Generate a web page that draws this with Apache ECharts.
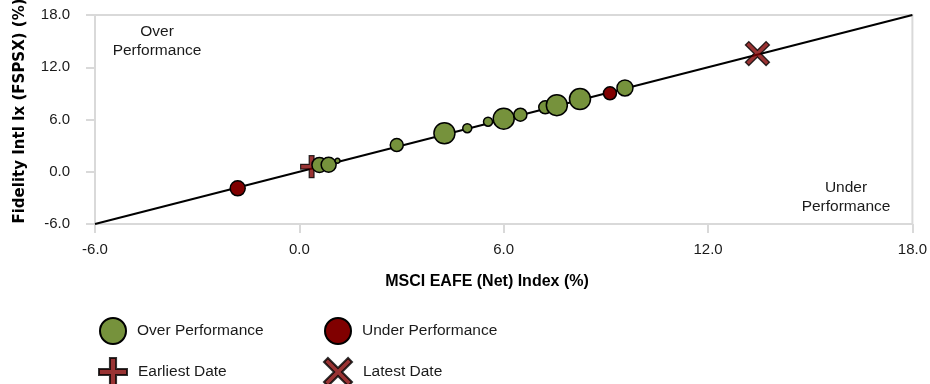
<!DOCTYPE html>
<html>
<head>
<meta charset="utf-8">
<script src="https://cdn.jsdelivr.net/npm/echarts@6/dist/echarts.min.js"></script>
<style>html,body{margin:0;padding:0;background:#fff;}#c{width:930px;height:384px;}</style>
</head>
<body>
<div id="c"></div>
<script>
// Data (x = MSCI EAFE (Net) Index %, y = Fidelity Intl Ix (FSPSX) %)
var axisTicks = [-6, 0, 6, 12, 18];
var overX = [0.59, 0.86, 1.12, 2.86, 4.26, 4.93, 5.54, 6.00, 6.49, 7.22, 7.56, 8.24, 9.56];
var overY = [0.78, 0.80, 1.27, 3.07, 4.42, 5.00, 5.75, 6.10, 6.55, 7.40, 7.65, 8.35, 9.62];
var overSize = [15, 15, 5, 13, 21, 9, 9, 21, 13, 13, 21, 21, 16];
var underX = [-1.81, 9.12];
var underY = [-1.90, 9.01];
var underSize = [15, 13];
var earliest = [0.36, 0.58];
var latest = [13.45, 13.57];
var lineX = [-6, 18];
var lineY = [-6, 18];

var GREEN = '#76923C', RED = '#800000';
var plusPath = 'path://M3.9,0 L6.1,0 L6.1,3.9 L10,3.9 L10,6.1 L6.1,6.1 L6.1,10 L3.9,10 L3.9,6.1 L0,6.1 L0,3.9 L3.9,3.9 Z';
var xPath = 'path://M0,1.4 L1.4,0 L5,3.6 L8.6,0 L10,1.4 L6.4,5 L10,8.6 L8.6,10 L5,6.4 L1.4,10 L0,8.6 L3.6,5 Z';

function zip(xs, ys, ss) {
  return xs.map(function (v, i) { return ss ? [v, ys[i], ss[i]] : [v, ys[i]]; });
}

var chart = echarts.init(document.getElementById('c'), null, {renderer: 'canvas'});
var FONT = 'Liberation Sans, Arial, sans-serif';
var axisCommon = {
  type: 'value', min: -6, max: 18, interval: 6,
  axisLine: {show: false, onZero: false},
  axisTick: {show: true, length: 9, lineStyle: {color: '#d9d9d9', width: 2}},
  splitLine: {show: false},
  axisLabel: {fontSize: 15, color: '#1a1a1a', fontFamily: FONT, formatter: function (v) { return v.toFixed(1); }}
};
var legendCommon = {
  itemWidth: 26, itemHeight: 26, itemGap: 0, padding: 0,
  textStyle: {fontSize: 15.5, color: '#1a1a1a', fontFamily: FONT, padding: [0, 0, 0, 6]},
  selectedMode: false
};
chart.setOption({
  animation: false,
  backgroundColor: '#fff',
  grid: {left: 95, right: 15, top: 15, bottom: 160, show: true, borderColor: '#d9d9d9', borderWidth: 2},
  xAxis: Object.assign({}, axisCommon, {axisLabel: Object.assign({}, axisCommon.axisLabel, {margin: 18})}),
  yAxis: Object.assign({}, axisCommon, {axisLabel: Object.assign({}, axisCommon.axisLabel, {margin: 25})}),
  legend: [
    Object.assign({}, legendCommon, {left: 99, top: 317, data: [{name: 'Over Performance', icon: 'circle'}]}),
    Object.assign({}, legendCommon, {left: 324, top: 317, data: [{name: 'Under Performance', icon: 'circle'}]}),
    Object.assign({}, legendCommon, {left: 98, top: 357, itemWidth: 28, itemHeight: 28, data: [{name: 'Earliest Date', icon: plusPath}]}),
    Object.assign({}, legendCommon, {left: 323, top: 357, itemWidth: 28, itemHeight: 28, data: [{name: 'Latest Date', icon: xPath}]})
  ],
  graphic: [
    {type: 'text', x: 487, y: 282, style: {text: 'MSCI EAFE (Net) Index (%)', fontSize: 16, fontWeight: 'bold', fontFamily: FONT, fill: '#000', align: 'center', verticalAlign: 'middle'}},
    {type: 'text', x: 20, y: 111, rotation: Math.PI / 2, style: {text: 'Fidelity Intl Ix (FSPSX) (%)', fontSize: 15, fontWeight: 'bold', fontFamily: 'DejaVu Sans, sans-serif', fill: '#000', align: 'center', verticalAlign: 'middle'}},
    {type: 'text', x: 157, y: 41, style: {text: 'Over\nPerformance', fontSize: 15.5, lineHeight: 19, fontFamily: FONT, fill: '#1a1a1a', align: 'center', verticalAlign: 'middle'}},
    {type: 'text', x: 846, y: 197, style: {text: 'Under\nPerformance', fontSize: 15.5, lineHeight: 19, fontFamily: FONT, fill: '#1a1a1a', align: 'center', verticalAlign: 'middle'}}
  ],
  series: [
    {type: 'line', data: zip(lineX, lineY), symbol: 'none', silent: true, lineStyle: {color: '#000', width: 2}, z: 1},
    {name: 'Earliest Date', type: 'scatter', data: [earliest], symbol: plusPath, symbolSize: 22,
      itemStyle: {color: RED, borderColor: '#000', borderWidth: 1.2}, z: 2},
    {name: 'Over Performance', type: 'scatter', data: zip(overX, overY, overSize), symbol: 'circle',
      symbolSize: function (d) { return d[2]; },
      itemStyle: {color: GREEN, borderColor: '#000', borderWidth: 1.5, opacity: 1}, z: 3},
    {name: 'Under Performance', type: 'scatter', data: zip(underX, underY, underSize), symbol: 'circle',
      symbolSize: function (d) { return d[2]; },
      itemStyle: {color: RED, borderColor: '#000', borderWidth: 1.5, opacity: 1}, z: 3},
    {name: 'Latest Date', type: 'scatter', data: [latest], symbol: xPath, symbolSize: 24,
      itemStyle: {color: RED, borderColor: '#000', borderWidth: 1.3}, z: 4}
  ]
});
</script>
</body>
</html>
